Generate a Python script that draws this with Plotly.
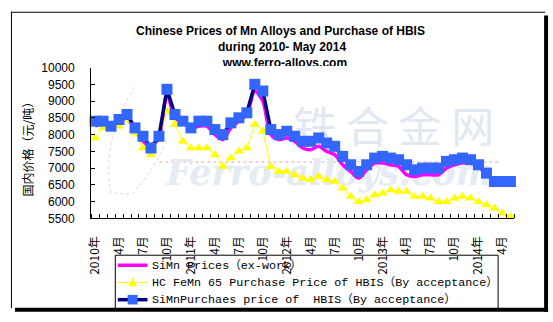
import plotly.graph_objects as go

# Monthly series, Jan 2010 - May 2014 (yuan/ton)
months = list(range(53))
simn_ex_work = [8250, 8350, 8250, 8350, 8450, 8150, 7800, 7650, 7900, 9200,
                8500, 8350, 8200, 8250, 8250, 8000, 7850, 8200, 8400, 8600,
                9300, 9000, 8000, 7850, 7900, 7800, 7600, 7550, 7650, 7500,
                7400, 7100, 6900, 6700, 6950, 7150, 7150, 7100, 7050, 6800,
                6750, 6800, 6800, 6800, 7000, 7100, 7150, 7150, 7050, 6800,
                6650, 6600, 6600]
femn_hbis = [7900, 8200, 8300, 8250, 8450, 8050, 7600, 7400, 7900, 8700,
             8300, 7800, 7600, 7600, 7600, 7400, 7050, 7300, 7500, 7600,
             8300, 8100, 7050, 6900, 6900, 6800, 6700, 6650, 6750, 6650,
             6600, 6400, 6150, 6000, 6050, 6200, 6250, 6350, 6300, 6300,
             6150, 6150, 6100, 6000, 6000, 6100, 6150, 6100, 6000, 5900,
             5800, 5650, 5550]
simn_hbis = [8400, 8400, 8250, 8450, 8600, 8200, 7950, 7600, 7950, 9350,
             8600, 8400, 8200, 8400, 8400, 8150, 8000, 8350, 8500, 8650,
             9500, 9300, 8150, 8000, 8100, 7950, 7800, 7800, 7900, 7750,
             7650, 7350, 7100, 6900, 7100, 7300, 7350, 7300, 7250, 7100,
             6950, 7000, 7000, 7000, 7200, 7250, 7300, 7250, 7100, 6850,
             6600, 6600, 6600]

tick_labels = ["2010年", "4月", "7月", "10月", "2011年", "4月", "7月", "10月",
               "2012年", "4月", "7月", "10月", "2013年", "4月", "7月", "10月",
               "2014年", "4月"]
tick_positions = months[::3]
y_ticks = list(range(5500, 10001, 500))

series_names = ["SiMn Prices（ex-work）",
                "HC FeMn 65 Purchase Price of HBIS（By acceptance）",
                "SiMnPurchaes price of\u00a0 HBIS（By acceptance）"]

W, H = 553, 322
PX0, PX1 = 86, 514       # plot area, pixels
PY0, PY1 = 63.3, 221
YMIN, YMAX = 5500, 10000
XMIN, XMAX = -0.5, 52.5

MAGENTA, YELLOW, NAVY, BLUE = "#FF00FF", "#FFFF00", "#000080", "#3366FF"


def fx(x):
    return x / W


def fy(y):
    return 1 - y / H


def data_x(px):
    return XMIN + (px - PX0) / (PX1 - PX0) * (XMAX - XMIN)


def data_y(py):
    return YMAX - (py - PY0) / (PY1 - PY0) * (YMAX - YMIN)


fig = go.Figure()

# faint site watermark behind the data
fig.add_trace(go.Scatter(
    x=[data_x(392)], y=[data_y(131)], mode="text",
    text=["铁 合 金 网"], showlegend=False, hoverinfo="skip",
    textfont=dict(family="Noto Sans CJK SC", size=43, color="#e1e8f4"),
))
fig.add_trace(go.Scatter(
    x=[data_x(327)], y=[data_y(177)], mode="text",
    text=["<b><i>Ferro-alloys.com</i></b>"], showlegend=False, hoverinfo="skip",
    textfont=dict(family="DejaVu Serif", size=35, color="#e4ebf5"),
))

fig.add_trace(go.Scatter(
    x=months, y=simn_ex_work, name=series_names[0], mode="lines",
    line=dict(color=MAGENTA, width=3.5, shape="spline", smoothing=0.8),
    cliponaxis=False, showlegend=False,
))
fig.add_trace(go.Scatter(
    x=months, y=femn_hbis, name=series_names[1], mode="lines+markers",
    line=dict(color=YELLOW, width=1),
    marker=dict(symbol="triangle-up", size=9, color=YELLOW),
    cliponaxis=False, showlegend=False,
))
fig.add_trace(go.Scatter(
    x=months, y=simn_hbis, name=series_names[2], mode="lines+markers",
    line=dict(color=NAVY, width=3.5),
    marker=dict(symbol="square", size=11, color=BLUE, line=dict(width=0)),
    cliponaxis=False, showlegend=False,
))

# third title line (its lower edge is masked by the plot area below)
fig.add_trace(go.Scatter(
    x=[282], y=[59.3], mode="text", text=["<b>www.ferro-alloys.com</b>"],
    textfont=dict(family="Liberation Sans", size=12, color="black"),
    xaxis="x2", yaxis="y2", showlegend=False, hoverinfo="skip",
    cliponaxis=False,
))

shapes = [
    # pale dotted guide of the watermark
    dict(type="line", xref="paper", yref="paper", layer="below",
         x0=fx(155), x1=fx(500), y0=fy(162), y1=fy(162),
         line=dict(color="#f6d0d0", width=2, dash="dot")),
    dict(type="path", xref="paper", yref="paper", layer="below",
         path=f"M{fx(130)},{fy(84)} Q{fx(96)},{fy(140)} {fx(106)},{fy(194)} "
              f"L{fx(127)},{fy(196)} Q{fx(150)},{fy(170)} {fx(162)},{fy(140)}",
         line=dict(color="#d9d9d9", width=1, dash="dot")),
    # white plot-area edge covering the foot of the third title line
    dict(type="rect", xref="paper", yref="paper", layer="above",
         x0=fx(210), x1=fx(355), y0=fy(61.8), y1=fy(68),
         fillcolor="white", line=dict(width=0)),
    # chart frame with shadow
    dict(type="line", xref="paper", yref="paper", x0=fx(5), x1=fx(545),
         y0=fy(5.5), y1=fy(5.5), line=dict(color="black", width=1)),
    dict(type="line", xref="paper", yref="paper", x0=fx(5.5), x1=fx(5.5),
         y0=fy(5), y1=fy(315), line=dict(color="black", width=1)),
    dict(type="rect", xref="paper", yref="paper", x0=fx(544), x1=fx(548),
         y0=fy(9), y1=fy(318.5), fillcolor="black", line=dict(width=0)),
    dict(type="rect", xref="paper", yref="paper", x0=fx(9), x1=fx(548),
         y0=fy(314.5), y1=fy(318.5), fillcolor="black", line=dict(width=0)),
    # legend box (no fill: axis labels show through)
    dict(type="rect", xref="paper", yref="paper", x0=fx(110.5), x1=fx(497.5),
         y0=fy(259.5), y1=fy(316), line=dict(color="black", width=1)),
]

annotations = [
    dict(text="<b>Chinese Prices of Mn Alloys and Purchase of HBIS</b>",
         x=fx(278), y=fy(25), xref="paper", yref="paper", showarrow=False,
         xanchor="center", yanchor="middle",
         font=dict(family="Liberation Sans", size=12, color="black")),
    dict(text="<b>during 2010- May 2014</b>",
         x=fx(279), y=fy(42), xref="paper", yref="paper", showarrow=False,
         xanchor="center", yanchor="middle",
         font=dict(family="Liberation Sans", size=12, color="black")),
    dict(text="国内价格（元/吨）", textangle=-90,
         x=fx(22), y=fy(145), xref="paper", yref="paper", showarrow=False,
         xanchor="center", yanchor="middle",
         font=dict(family="Noto Sans CJK SC", size=12, color="black")),
]

# legend rows: swatch line, marker, label
legend_rows = [
    dict(color=MAGENTA, width=3.5, marker=None),
    dict(color=YELLOW, width=1, marker="triangle"),
    dict(color=NAVY, width=3.5, marker="square"),
]
for i, (row, name) in enumerate(zip(legend_rows, series_names)):
    yc = 270 + 18 * i
    shapes.append(dict(type="line", xref="paper", yref="paper",
                       x0=fx(113), x1=fx(143), y0=fy(yc), y1=fy(yc),
                       line=dict(color=row["color"], width=row["width"])))
    if row["marker"] == "square":
        shapes.append(dict(type="rect", xref="paper", yref="paper",
                           x0=fx(123), x1=fx(133), y0=fy(yc - 5), y1=fy(yc + 5),
                           fillcolor=BLUE, line=dict(width=0)))
    elif row["marker"] == "triangle":
        shapes.append(dict(type="path", xref="paper", yref="paper",
                           path=f"M{fx(123.5)},{fy(yc + 4)} L{fx(132.5)},{fy(yc + 4)} "
                                f"L{fx(128)},{fy(yc - 5)} Z",
                           fillcolor=YELLOW, line=dict(width=0)))
    annotations.append(dict(
        text=name, x=fx(146), y=fy(yc), xref="paper", yref="paper",
        showarrow=False, xanchor="left", yanchor="middle",
        font=dict(family="Liberation Mono, Noto Sans CJK SC", size=11.7,
                  color="black")))

fig.update_layout(
    width=W, height=H,
    margin=dict(l=0, r=0, t=0, b=0),
    paper_bgcolor="white", plot_bgcolor="rgba(0,0,0,0)",
    shapes=shapes, annotations=annotations,
    showlegend=False,
    xaxis=dict(
        domain=[fx(PX0), fx(PX1)], range=[XMIN, XMAX], showgrid=False,
        zeroline=False, showline=True, linecolor="black", linewidth=1,
        tickmode="array", tickvals=tick_positions, ticktext=tick_labels,
        ticks="", tickangle=-90, ticklabelstandoff=12,
        tickfont=dict(family="Noto Sans CJK SC", size=12, color="black"),
        minor=dict(tickvals=[m - 0.5 for m in months] + [52.5],
                   ticks="inside", ticklen=4, tickcolor="black", tickwidth=1),
    ),
    yaxis=dict(
        domain=[fy(PY1), fy(PY0)], range=[YMIN, YMAX], showgrid=False,
        zeroline=False, showline=True, linecolor="black", linewidth=1,
        tickmode="array", tickvals=y_ticks, ticktext=[str(v) for v in y_ticks],
        ticks="inside", ticklen=4, tickcolor="black", ticklabelstandoff=13,
        tickfont=dict(family="Liberation Sans", size=12, color="black"),
    ),
    xaxis2=dict(domain=[0, 1], range=[0, W], visible=False, anchor="y2"),
    yaxis2=dict(domain=[fy(70), fy(40)], range=[70, 40], visible=False,
                anchor="x2"),
)

fig.write_html("out.html")
